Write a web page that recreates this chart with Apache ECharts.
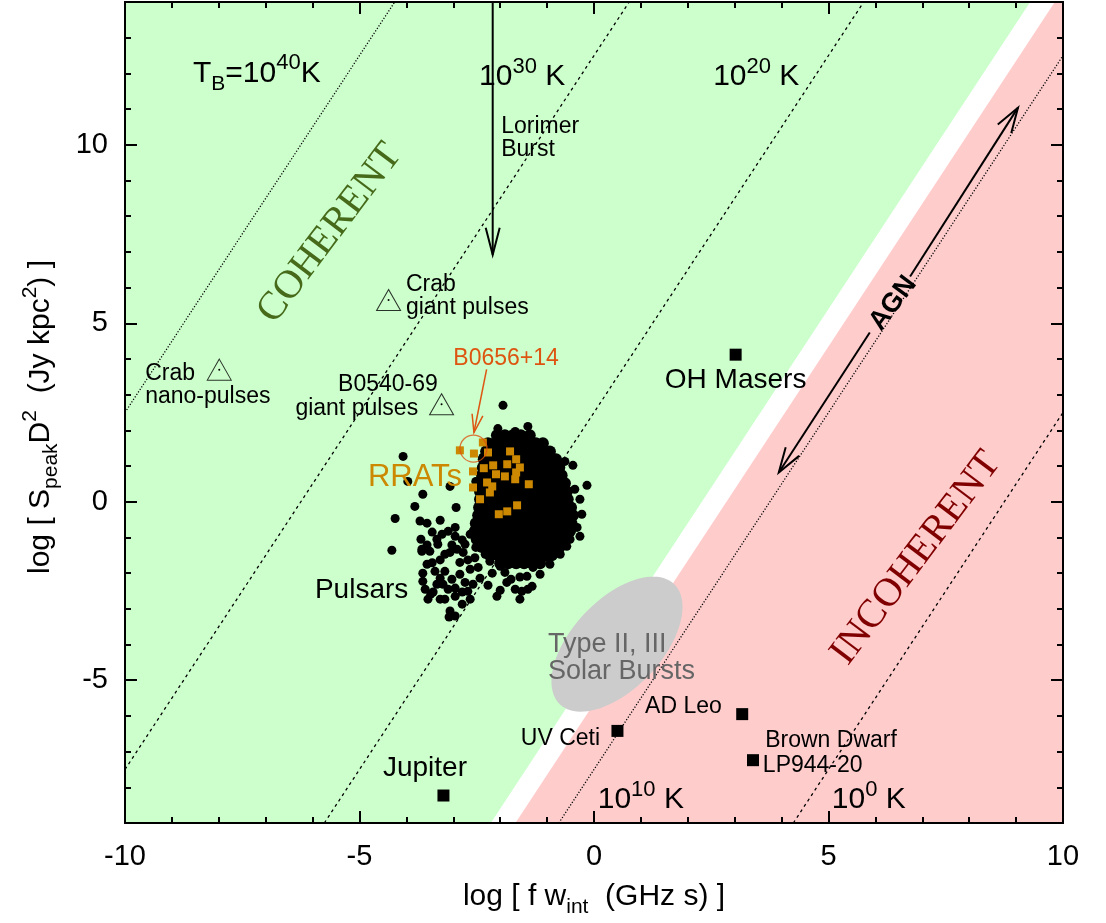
<!DOCTYPE html>
<html>
<head>
<meta charset="utf-8">
<script src="https://cdn.jsdelivr.net/npm/echarts@6/dist/echarts.min.js"></script>
<style>
html, body { margin: 0; padding: 0; background: #fff; }
#chart { width: 1106px; height: 923px; }
</style>
</head>
<body>
<div id="chart"></div>
<script>
// ---------------- data ----------------
// axis ranges and tick positions (log units)
const xRange = [-10, 10];
const yRange = [-9, 14];
const yMajorTicks = [-5, 0, 5, 10];
const yMinorTicks = [-8, -7, -6, -4, -3, -2, -1, 1, 2, 3, 4, 6, 7, 8, 9, 11, 12, 13];

// brightness-temperature lines: log(S D^2) = 2 log(f w) + log(T_B) + tbOffset
const tbExponents = [40, 30, 20, 10, 0];
const tbOffset = -17.5;

// intercepts of the slope-2 lines bounding the coherent and incoherent regions
const coherentEdge = -4.6;
const incoherentEdge = -5.65;

// Type II, III solar bursts region: centre and two conjugate semi-axes
const solarCenter = [0.49, -3.99];
const solarAxisU = [1.215, 1.687];
const solarAxisV = [-0.691, 0.857];

// individual sources
const crabNanoPulses = [[-7.99, 3.70]];
const crabGiantPulses = [[-4.38, 5.65]];
const b0540GiantPulses = [[-3.25, 2.73]];
const ohMasers = [[3.02, 4.12]];
const jupiter = [[-3.21, -8.23]];
const uvCeti = [[0.50, -6.42]];
const adLeo = [[3.16, -5.95]];
const lp944 = [[3.39, -7.24]];
const b0656 = [[-2.57, 1.49]];

// RRATs
const rrats = [
  [-2.86, 1.44], [-2.56, 1.35], [-2.37, 1.66], [-2.26, 1.38], [-2.58, 0.85], [-2.35, 0.94],
  [-2.15, 1.02], [-2.09, 0.77], [-1.79, 1.41], [-1.66, 1.19], [-1.85, 1.05], [-1.58, 0.96],
  [-1.66, 0.82], [-1.68, 0.63], [-1.90, 0.71], [-2.58, 0.40], [-2.28, 0.54], [-2.17, 0.43],
  [-2.22, 0.26], [-2.43, 0.07], [-1.39, 0.49], [-1.64, -0.10], [-1.85, -0.27], [-2.03, -0.35]
];

// pulsars: outlying sources
const pulsarsOuter = [
  [-1.94, 2.70], [-2.05, 2.05], [-1.68, 1.97], [-1.41, 2.11], [-1.43, 1.75], [-2.00, 1.75],
  [-2.22, 1.66], [-1.58, 1.61], [-1.47, 1.47], [-0.83, 0.82], [-0.45, 1.02], [-0.15, 0.46],
  [-0.30, 0.07], [-0.41, 0.35], [-0.26, -0.35], [-0.30, -0.97], [-0.58, -1.25], [-1.00, -1.56],
  [-1.30, -1.84], [-1.43, -2.09], [-1.32, -2.37], [-1.68, -2.45], [-1.54, -2.51], [-2.07, -2.65],
  [-1.86, -2.26], [-1.77, -2.17], [-1.58, -2.11], [-2.75, -2.26], [-2.69, -2.51], [-2.58, -2.31],
  [-2.96, -2.65], [-3.07, -3.06], [-2.96, -3.20], [-3.09, -3.23], [-3.43, -2.53], [-3.48, -2.59],
  [-3.35, -2.31], [-3.22, -2.31], [-3.11, -2.45], [-3.65, -2.00], [-3.65, -2.23], [-3.56, -1.75],
  [-3.67, -1.33], [-3.69, -1.05], [-3.35, -1.05], [-3.24, -0.91], [-3.11, -0.83], [-2.96, -0.97],
  [-3.33, -1.19], [-3.67, -1.39], [-3.50, -1.39], [-3.18, -1.47], [-3.07, -1.42], [-2.92, -1.33],
  [-2.79, -1.42], [-2.86, -1.70], [-2.64, -1.89], [-2.47, -1.84], [-2.86, -2.03], [-3.18, -1.95],
  [-3.39, -1.95], [-3.03, -2.17], [-3.71, -0.54], [-3.56, -0.60], [-3.28, -0.52], [-2.96, -0.72],
  [-4.24, -0.47], [-4.31, -1.36], [-4.07, 1.27], [-3.97, 0.57], [-3.65, 0.21], [-3.82, -0.13],
  [-2.94, -0.16], [-3.07, 0.43], [-2.39, 0.82], [-2.52, 0.57], [-2.37, 1.24], [-2.45, -0.80],
  [-2.39, -0.49], [-2.64, -0.91], [-2.75, -1.19], [-2.52, -1.28], [-2.32, -1.47], [-2.22, -1.67],
  [-2.00, -1.81], [-1.90, -1.98], [-1.15, -2.03], [-0.94, -1.75], [-0.72, -1.47], [-0.51, -1.05],
  [-0.36, -0.72], [-0.62, 1.13], [-0.72, 0.63], [-0.55, -0.21], [-1.58, -2.73], [-1.41, -2.45],
  [-2.64, -2.73], [-2.81, -2.87], [-3.28, -2.73], [-3.54, -2.73],
  [-3.45, -0.85], [-3.56, -1.21], [-3.03, -1.21], [-2.81, -1.07], [-3.28, -1.63], [-3.45, -1.71],
  [-2.69, -1.63], [-2.54, -1.57], [-2.39, -1.29], [-3.28, -2.14], [-2.96, -2.42], [-2.81, -2.53],
  [-2.43, -2.14], [-2.26, -2.34], [-2.17, -2.00], [-2.00, -2.48], [-3.18, -2.73], [-3.60, -2.45]
];

// pulsars: densely packed sources
const pulsarsCore = [
  [-2.07, 1.86], [-1.90, 1.86], [-1.73, 1.86], [-1.56, 1.86], [-1.37, 1.86],
  [-2.26, 1.64], [-2.09, 1.64], [-1.92, 1.64], [-1.75, 1.64], [-1.58, 1.64], [-1.41, 1.64], [-1.24, 1.64], [-1.09, 1.64],
  [-2.30, 1.41], [-2.13, 1.41], [-1.96, 1.41], [-1.79, 1.41], [-1.62, 1.41], [-1.45, 1.41], [-1.28, 1.41], [-1.11, 1.41], [-0.94, 1.41],
  [-2.35, 1.19], [-2.17, 1.19], [-2.00, 1.19], [-1.83, 1.19], [-1.66, 1.19], [-1.49, 1.19], [-1.32, 1.19], [-1.15, 1.19], [-0.98, 1.19], [-0.81, 1.19],
  [-2.37, 0.96], [-2.20, 0.96], [-2.03, 0.96], [-1.86, 0.96], [-1.69, 0.96], [-1.52, 0.96], [-1.35, 0.96], [-1.18, 0.96], [-1.01, 0.96], [-0.84, 0.96], [-0.74, 0.96],
  [-2.39, 0.74], [-2.22, 0.74], [-2.05, 0.74], [-1.88, 0.74], [-1.71, 0.74], [-1.54, 0.74], [-1.37, 0.74], [-1.20, 0.74], [-1.03, 0.74], [-0.86, 0.74], [-0.69, 0.74],
  [-2.41, 0.52], [-2.24, 0.52], [-2.07, 0.52], [-1.90, 0.52], [-1.73, 0.52], [-1.56, 0.52], [-1.39, 0.52], [-1.22, 0.52], [-1.05, 0.52], [-0.88, 0.52], [-0.71, 0.52], [-0.62, 0.52],
  [-2.43, 0.29], [-2.26, 0.29], [-2.09, 0.29], [-1.92, 0.29], [-1.75, 0.29], [-1.58, 0.29], [-1.41, 0.29], [-1.24, 0.29], [-1.07, 0.29], [-0.90, 0.29], [-0.73, 0.29], [-0.58, 0.29],
  [-2.43, 0.07], [-2.26, 0.07], [-2.09, 0.07], [-1.92, 0.07], [-1.75, 0.07], [-1.58, 0.07], [-1.41, 0.07], [-1.24, 0.07], [-1.07, 0.07], [-0.90, 0.07], [-0.73, 0.07], [-0.56, 0.07],
  [-2.45, -0.16], [-2.28, -0.16], [-2.11, -0.16], [-1.94, -0.16], [-1.77, -0.16], [-1.60, -0.16], [-1.43, -0.16], [-1.26, -0.16], [-1.09, -0.16], [-0.92, -0.16], [-0.75, -0.16], [-0.58, -0.16], [-0.49, -0.16],
  [-2.47, -0.38], [-2.30, -0.38], [-2.13, -0.38], [-1.96, -0.38], [-1.79, -0.38], [-1.62, -0.38], [-1.45, -0.38], [-1.28, -0.38], [-1.11, -0.38], [-0.94, -0.38], [-0.77, -0.38], [-0.60, -0.38], [-0.45, -0.38],
  [-2.52, -0.60], [-2.35, -0.60], [-2.18, -0.60], [-2.01, -0.60], [-1.84, -0.60], [-1.67, -0.60], [-1.50, -0.60], [-1.33, -0.60], [-1.16, -0.60], [-0.99, -0.60], [-0.82, -0.60], [-0.65, -0.60], [-0.48, -0.60],
  [-2.54, -0.82], [-2.37, -0.82], [-2.20, -0.82], [-2.03, -0.82], [-1.86, -0.82], [-1.69, -0.82], [-1.52, -0.82], [-1.35, -0.82], [-1.18, -0.82], [-1.01, -0.82], [-0.84, -0.82], [-0.67, -0.82], [-0.51, -0.82],
  [-2.50, -1.05], [-2.33, -1.05], [-2.16, -1.05], [-1.99, -1.05], [-1.82, -1.05], [-1.65, -1.05], [-1.48, -1.05], [-1.31, -1.05], [-1.14, -1.05], [-0.97, -1.05], [-0.80, -1.05], [-0.60, -1.05],
  [-2.39, -1.27], [-2.22, -1.27], [-2.05, -1.27], [-1.88, -1.27], [-1.71, -1.27], [-1.54, -1.27], [-1.37, -1.27], [-1.20, -1.27], [-1.03, -1.27], [-0.86, -1.27], [-0.73, -1.27],
  [-2.22, -1.50], [-2.05, -1.50], [-1.88, -1.50], [-1.71, -1.50], [-1.54, -1.50], [-1.37, -1.50], [-1.20, -1.50], [-1.03, -1.50], [-0.90, -1.50],
  [-2.00, -1.72], [-1.83, -1.72], [-1.66, -1.72], [-1.49, -1.72], [-1.32, -1.72], [-1.15, -1.72]
];

// arrows: [start, tip]
const lorimerBurstArrow = [[-2.16, 14], [-2.16, 6.92]];
const agnArrowUp = [[6.74, 6.31], [9.04, 11.04]];
const agnArrowDown = [[5.88, 4.74], [3.94, 0.82]];
const b0656Arrow = [[-2.29, 3.71], [-2.56, 1.94]];

// text annotations: [x, y, text, style]
const annotations = [
  [-8.55, 12.0, '{m|T}{sb|B}{m|=10}{sp|40}{m|K}', 'temp'],
  [-2.45, 11.9, '{m|10}{sp|30}{m| K}', 'temp'],
  [2.54, 11.9, '{m|10}{sp|20}{m| K}', 'temp'],
  [0.08, -8.36, '{m|10}{sp|10}{m| K}', 'temp'],
  [5.07, -8.36, '{m|10}{sp|0}{m| K}', 'temp'],
  [-1.98, 10.5, 'Lorimer', 'small'],
  [-1.98, 9.85, 'Burst', 'small'],
  [-4.01, 6.07, 'Crab', 'small'],
  [-4.01, 5.43, 'giant pulses', 'small'],
  [-9.57, 3.58, 'Crab', 'small'],
  [-9.57, 2.93, 'nano-pulses', 'small'],
  [-3.33, 3.27, 'B0540-69', 'smallRight'],
  [-3.75, 2.62, 'giant pulses', 'smallRight'],
  [-3.0, 4.0, 'B0656+14', 'b0656'],
  [-4.82, 0.69, 'RRATs', 'rrat'],
  [-5.95, -2.47, 'Pulsars', 'large'],
  [1.51, 3.41, 'OH Masers', 'large'],
  [-0.98, -4.01, 'Type II, III', 'solar'],
  [-0.98, -4.77, 'Solar Bursts', 'solar'],
  [1.09, -5.75, 'AD Leo', 'small'],
  [0.13, -6.63, 'UV Ceti', 'smallRight'],
  [3.65, -6.70, 'Brown Dwarf', 'small'],
  [3.60, -7.38, 'LP944-20', 'small'],
  [-4.50, -7.46, 'Jupiter', 'large'],
  [-5.63, 7.52, 'COHERENT', 'coherent'],
  [6.87, -1.58, 'INCOHERENT', 'incoherent'],
  [6.38, 5.56, 'AGN', 'agn']
];

// ---------------- styles ----------------
const SANS = 'Liberation Sans, Arial, Helvetica, sans-serif';
const SERIF = 'Liberation Serif, Times New Roman, serif';
const GREEN_FILL = '#ccffcc';
const PINK_FILL = '#ffcccc';
const RRAT_COLOR = '#cc8800';
const B0656_COLOR = '#dd5511';
const TILT = 53 * Math.PI / 180;

const tbDash = { 40: [1.2, 1.8], 30: [3, 3.5], 20: [3, 3.5], 10: [1.2, 1.8], 0: [3, 3.5] };

const richTemp = {
  m: { fontSize: 30, fontFamily: SANS, lineHeight: 42, fill: '#000' },
  sp: { fontSize: 22, fontFamily: SANS, lineHeight: 20, verticalAlign: 'top', fill: '#000' },
  sb: { fontSize: 21, fontFamily: SANS, lineHeight: 22, verticalAlign: 'bottom', fill: '#000' }
};

const labelStyles = {
  temp: { size: 30, color: '#000', align: 'left' },
  small: { size: 23, color: '#000', align: 'left' },
  smallRight: { size: 23, color: '#000', align: 'right' },
  large: { size: 28, color: '#000', align: 'left' },
  b0656: { size: 23, color: B0656_COLOR, align: 'left' },
  rrat: { size: 31, color: RRAT_COLOR, align: 'left' },
  solar: { size: 27, color: '#666666', align: 'left' },
  coherent: { size: 40, color: '#466a1a', align: 'center', family: SERIF, rotate: TILT },
  incoherent: { size: 40, color: '#800000', align: 'center', family: SERIF, rotate: TILT },
  agn: { size: 27, color: '#000', align: 'center', weight: 'bold', rotate: TILT }
};

const arrowStyles = [
  { color: '#000', width: 2, head: 27, half: 7 },
  { color: '#000', width: 2, head: 25, half: 8 },
  { color: '#000', width: 2, head: 25, half: 8 },
  { color: B0656_COLOR, width: 1.5, head: 18, half: 5.5 }
];
const arrowList = [lorimerBurstArrow, agnArrowUp, agnArrowDown, b0656Arrow];

// ---------------- helpers ----------------
function polygonSeries(points, color, z) {
  return {
    type: 'custom', silent: true, clip: true, z: z,
    data: [[points[0][0], points[0][1]]],
    renderItem: function (params, api) {
      return {
        type: 'polygon',
        shape: { points: points.map(function (p) { return api.coord(p); }) },
        style: { fill: color, stroke: null }
      };
    }
  };
}

// region outlines from the boundary intercepts
const coherentRegion = [
  [xRange[0], yRange[0]], [(yRange[0] - coherentEdge) / 2, yRange[0]],
  [(yRange[1] - coherentEdge) / 2, yRange[1]], [xRange[0], yRange[1]]
];
const incoherentRegion = [
  [(yRange[0] - incoherentEdge) / 2, yRange[0]], [xRange[1], yRange[0]],
  [xRange[1], yRange[1]], [(yRange[1] - incoherentEdge) / 2, yRange[1]]
];
const solarOutline = [];
for (let k = 0; k < 96; k++) {
  const t = 2 * Math.PI * k / 96;
  solarOutline.push([
    solarCenter[0] + solarAxisU[0] * Math.cos(t) + solarAxisV[0] * Math.sin(t),
    solarCenter[1] + solarAxisU[1] * Math.cos(t) + solarAxisV[1] * Math.sin(t)
  ]);
}

// T_B line endpoints clipped to the frame
function tbSegment(exp) {
  const c = exp + tbOffset;
  let x0 = (yRange[0] - c) / 2, y0 = yRange[0];
  let x1 = (yRange[1] - c) / 2, y1 = yRange[1];
  if (x0 < xRange[0]) { x0 = xRange[0]; y0 = 2 * x0 + c; }
  if (x1 > xRange[1]) { x1 = xRange[1]; y1 = 2 * x1 + c; }
  return [[x0, y0], [x1, y1]];
}

const tbSeries = tbExponents.map(function (e) {
  return {
    type: 'line', silent: true, z: 3, symbol: 'none', clip: true,
    data: tbSegment(e),
    lineStyle: { color: '#000', width: 1.3, type: tbDash[e] }
  };
});

function scatter(data, symbol, size, color, z, extra) {
  const s = {
    type: 'scatter', silent: true, z: z, symbol: symbol, symbolSize: size,
    data: data, itemStyle: { color: color, opacity: 1 }
  };
  return Object.assign(s, extra || {});
}

const openMarker = { itemStyle: { color: 'rgba(0,0,0,0)', borderColor: '#000', borderWidth: 1 } };

// ---------------- chart ----------------
const chart = echarts.init(document.getElementById('chart'), null, { renderer: 'canvas' });

const tickLine = { color: '#000', width: 2 };
function xAxisDef(pos, labels) {
  return {
    type: 'value', position: pos, min: xRange[0], max: xRange[1], interval: 5, z: 50,
    axisLine: { show: true, onZero: false, lineStyle: { color: '#000', width: 2 } },
    axisTick: { show: true, inside: true, length: 12, lineStyle: tickLine },
    minorTick: { show: true, splitNumber: 5, length: 6, lineStyle: tickLine },
    axisLabel: { show: labels, margin: 19, fontSize: 29, fontFamily: SANS, color: '#000' },
    splitLine: { show: false }, minorSplitLine: { show: false }
  };
}
function yAxisDef(pos, ticks, len, labels) {
  return {
    type: 'value', position: pos, min: yRange[0], max: yRange[1], z: 50,
    axisLine: { show: true, onZero: false, lineStyle: { color: '#000', width: 2 } },
    axisTick: { show: true, inside: true, length: len, customValues: ticks, lineStyle: tickLine },
    axisLabel: { show: labels, customValues: ticks, margin: 17, fontSize: 29, fontFamily: SANS, color: '#000' },
    splitLine: { show: false }
  };
}

const option = {
  animation: false,
  backgroundColor: '#ffffff',
  grid: { left: 125, right: 43, top: 2, bottom: 100, containLabel: false },
  xAxis: [xAxisDef('bottom', true), xAxisDef('top', false)],
  yAxis: [
    yAxisDef('left', yMajorTicks, 12, true),
    yAxisDef('right', yMajorTicks, 12, false),
    yAxisDef('left', yMinorTicks, 6, false),
    yAxisDef('right', yMinorTicks, 6, false)
  ],
  graphic: [
    {
      type: 'text', x: 594, y: 897, z: 100,
      style: {
        text: '{m|log [ f w}{sb|int}{m|  (GHz s) ]}',
        align: 'center', verticalAlign: 'middle',
        rich: {
          m: { fontSize: 30, fontFamily: SANS, lineHeight: 42, fill: '#000' },
          sb: { fontSize: 21, fontFamily: SANS, lineHeight: 22, verticalAlign: 'bottom', fill: '#000' }
        }
      }
    },
    {
      type: 'text', x: 41, y: 417, z: 100, rotation: Math.PI / 2,
      style: {
        text: '{m|log [ S}{sb|peak}{m|D}{sp|2}{m|  (Jy kpc}{sp|2}{m|) ]}',
        align: 'center', verticalAlign: 'middle',
        rich: {
          m: { fontSize: 30, fontFamily: SANS, lineHeight: 42, fill: '#000' },
          sb: { fontSize: 21, fontFamily: SANS, lineHeight: 22, verticalAlign: 'bottom', fill: '#000' },
          sp: { fontSize: 21, fontFamily: SANS, lineHeight: 18, verticalAlign: 'top', fill: '#000' }
        }
      }
    }
  ],
  series: [
    polygonSeries(coherentRegion, GREEN_FILL, 1),
    polygonSeries(incoherentRegion, PINK_FILL, 1),
    polygonSeries(solarOutline, '#cccccc', 2)
  ].concat(tbSeries).concat([
    scatter(pulsarsOuter, 'circle', 9, '#000', 5),
    scatter(pulsarsCore, 'circle', 12, '#000', 5),
    scatter(rrats, 'rect', 8, RRAT_COLOR, 6),
    scatter(crabNanoPulses.concat(crabGiantPulses, b0540GiantPulses), 'triangle', [24, 21], '#000', 6, openMarker),
    scatter(crabNanoPulses.concat(crabGiantPulses, b0540GiantPulses), 'circle', 2, '#000', 6),
    scatter(ohMasers.concat(jupiter, uvCeti, adLeo, lp944), 'rect', 12, '#000', 6),
    scatter(b0656, 'circle', 27, 'rgba(0,0,0,0)', 7,
      { itemStyle: { color: 'rgba(0,0,0,0)', borderColor: B0656_COLOR, borderWidth: 1.3 } }),
    {
      type: 'custom', silent: true, clip: false, z: 8,
      data: arrowList.map(function (a) { return [a[1][0], a[1][1]]; }),
      renderItem: function (params, api) {
        const seg = arrowList[params.dataIndex];
        const st = arrowStyles[params.dataIndex];
        const a = api.coord(seg[0]), b = api.coord(seg[1]);
        const dx = b[0] - a[0], dy = b[1] - a[1];
        const len = Math.sqrt(dx * dx + dy * dy);
        const ux = dx / len, uy = dy / len;
        const bx = b[0] - ux * st.head, by = b[1] - uy * st.head;
        const p1 = [bx - uy * st.half, by + ux * st.half];
        const p2 = [bx + uy * st.half, by - ux * st.half];
        return {
          type: 'group',
          children: [
            { type: 'line', shape: { x1: a[0], y1: a[1], x2: b[0], y2: b[1] },
              style: { stroke: st.color, lineWidth: st.width } },
            { type: 'polyline', shape: { points: [p1, b, p2] },
              style: { stroke: st.color, lineWidth: st.width, fill: null } }
          ]
        };
      }
    },
    {
      type: 'custom', silent: true, clip: false, z: 10,
      data: annotations.map(function (a) { return [a[0], a[1]]; }),
      renderItem: function (params, api) {
        const a = annotations[params.dataIndex];
        const st = labelStyles[a[3]];
        const p = api.coord([a[0], a[1]]);
        const font = (st.weight || 'normal') + ' ' + st.size + 'px ' + (st.family || SANS);
        return {
          type: 'text', x: p[0], y: p[1], rotation: st.rotate || 0,
          style: {
            text: a[2], font: font, fill: st.color,
            align: st.align, verticalAlign: 'middle',
            rich: a[3] === 'temp' ? richTemp : undefined
          }
        };
      }
    }
  ])
};

chart.setOption(option);
</script>
</body>
</html>
